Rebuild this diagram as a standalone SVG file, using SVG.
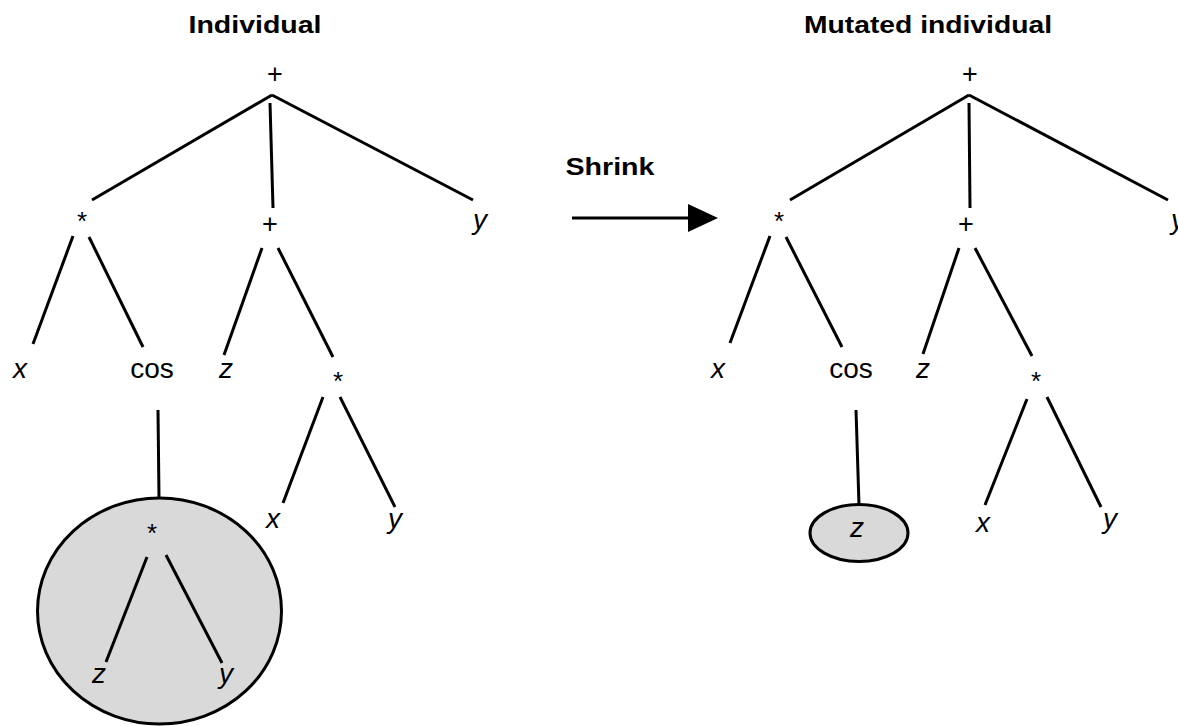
<svg xmlns="http://www.w3.org/2000/svg" width="1178" height="726" viewBox="0 0 1178 726">
<style>
.t{font-family:"Liberation Sans",Arial,sans-serif;fill:#000;text-anchor:middle}
.title{font-size:24px;font-weight:bold}
.op{font-size:27px}
.star{font-size:26px}
.var{font-size:28px;font-style:italic}
.fn{font-size:28px}
.e{stroke:#000;stroke-width:3;fill:none;stroke-linecap:butt}
.sel{fill:#d9d9d9;stroke:#000;stroke-width:3}
</style>
<defs>
<marker id="ah" markerWidth="10" markerHeight="10" refX="9" refY="5" orient="auto" markerUnits="userSpaceOnUse" viewBox="0 0 10 10">
<path d="M0,0 L10,5 L0,10 z" fill="#000"/>
</marker>
</defs>
<rect width="1178" height="726" fill="#fff"/>

<!-- highlighted subtrees (drawn first) -->
<g id="highlight-left"><ellipse class="sel" cx="159.5" cy="611" rx="122" ry="113"/></g>
<g id="highlight-right"><ellipse class="sel" cx="859" cy="533" rx="49" ry="28.5"/></g>

<g id="connectors">
<!-- left tree -->
<line class="e" x1="272" y1="95" x2="92" y2="200"/>
<line class="e" x1="270" y1="103" x2="273" y2="208"/>
<line class="e" x1="272" y1="95" x2="473" y2="200"/>
<line class="e" x1="73" y1="236" x2="33" y2="344"/>
<line class="e" x1="89" y1="237" x2="143" y2="347"/>
<line class="e" x1="262" y1="248" x2="224" y2="355"/>
<line class="e" x1="278" y1="248" x2="333" y2="357"/>
<line class="e" x1="323" y1="397" x2="283" y2="503"/>
<line class="e" x1="340" y1="397" x2="395" y2="507"/>
<line class="e" x1="158" y1="410" x2="159" y2="498"/>
<line class="e" x1="147" y1="557" x2="106" y2="662"/>
<line class="e" x1="166" y1="555" x2="222" y2="663"/>
<!-- right tree -->
<line class="e" x1="969" y1="95" x2="790" y2="200"/>
<line class="e" x1="969" y1="103" x2="970" y2="208"/>
<line class="e" x1="969" y1="95" x2="1168" y2="200"/>
<line class="e" x1="770" y1="236" x2="730" y2="343"/>
<line class="e" x1="786" y1="237" x2="842" y2="347"/>
<line class="e" x1="959" y1="248" x2="923" y2="354"/>
<line class="e" x1="975" y1="248" x2="1032" y2="356"/>
<line class="e" x1="1027" y1="399" x2="985" y2="505"/>
<line class="e" x1="1047" y1="397" x2="1101" y2="507"/>
<line class="e" x1="856" y1="410" x2="859" y2="505"/>
<!-- shrink arrow -->
<line x1="572" y1="218" x2="690" y2="218" stroke="#000" stroke-width="3"/>
<path d="M688,204 L718,218 L688,232 z" fill="#000"/>
</g>

<g id="titles">
<text class="t title" x="255" y="33" textLength="133" lengthAdjust="spacingAndGlyphs">Individual</text>
<text class="t title" x="928" y="33" textLength="248" lengthAdjust="spacingAndGlyphs">Mutated individual</text>
<text class="t title" x="610" y="175" textLength="89" lengthAdjust="spacingAndGlyphs">Shrink</text>
</g>

<!-- left tree nodes -->
<g id="L-root"><text class="t op" x="275" y="83">+</text></g>
<g id="L-mul1"><text class="t star" x="82" y="230">*</text></g>
<g id="L-add"><text class="t op" x="270" y="233">+</text></g>
<g id="L-y1"><text class="t var" x="480" y="229">y</text></g>
<g id="L-x1"><text class="t var" x="20" y="378">x</text></g>
<g id="L-cos"><text class="t fn" x="152" y="378">cos</text></g>
<g id="L-z1"><text class="t var" x="226" y="378">z</text></g>
<g id="L-mul2"><text class="t star" x="338" y="390">*</text></g>
<g id="L-x2"><text class="t var" x="273" y="528">x</text></g>
<g id="L-y2"><text class="t var" x="395" y="528">y</text></g>
<g id="L-mul3"><text class="t star" x="152" y="542">*</text></g>
<g id="L-z2"><text class="t var" x="99" y="683">z</text></g>
<g id="L-y3"><text class="t var" x="226" y="683">y</text></g>

<!-- right tree nodes -->
<g id="R-root"><text class="t op" x="970" y="83">+</text></g>
<g id="R-mul1"><text class="t star" x="779" y="230">*</text></g>
<g id="R-add"><text class="t op" x="966" y="233">+</text></g>
<g id="R-y1"><text class="t var" x="1178" y="229">y</text></g>
<g id="R-x1"><text class="t var" x="718" y="378">x</text></g>
<g id="R-cos"><text class="t fn" x="851" y="378">cos</text></g>
<g id="R-z1"><text class="t var" x="923" y="378">z</text></g>
<g id="R-mul2"><text class="t star" x="1036" y="390">*</text></g>
<g id="R-z2"><text class="t var" x="857" y="537">z</text></g>
<g id="R-x2"><text class="t var" x="983" y="532">x</text></g>
<g id="R-y2"><text class="t var" x="1110" y="528">y</text></g>
</svg>
